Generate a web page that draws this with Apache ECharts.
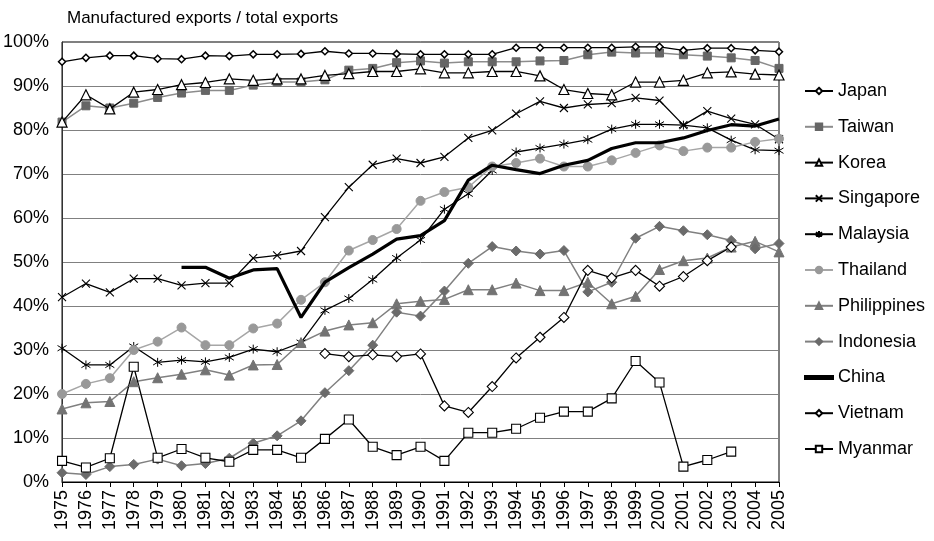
<!DOCTYPE html>
<html>
<head>
<meta charset="utf-8">
<script src="https://cdn.jsdelivr.net/npm/echarts@6/dist/echarts.min.js"></script>
<title>Manufactured exports</title>
<style>
html,body{margin:0;padding:0;background:#fff;}
#chart{width:934px;height:541px;}
</style>
</head>
<body>
<div id="chart"></div>
<script>
var years = [];
for (var y = 1975; y <= 2005; y++) years.push(String(y));

var japan = [95.5,96.4,96.9,96.9,96.2,96.1,96.9,96.8,97.2,97.2,97.3,97.9,97.4,97.4,97.3,97.2,97.2,97.2,97.2,98.7,98.7,98.7,98.7,98.7,98.9,98.9,98.1,98.6,98.6,98.1,97.8];
var taiwan = [81.8,85.5,85.0,86.1,87.4,88.4,89.0,89.0,90.2,90.9,90.9,91.4,93.6,94.0,95.3,95.7,95.2,95.5,95.5,95.5,95.7,95.8,97.1,97.7,97.5,97.5,97.1,96.8,96.4,95.8,94.0];
var korea = [81.8,88.0,84.8,88.6,89.2,90.3,90.8,91.6,91.3,91.6,91.6,92.4,92.8,93.3,93.3,93.9,93.0,93.0,93.3,93.3,92.3,89.2,88.3,88.0,90.9,90.9,91.3,93.0,93.2,92.7,92.5];
var singapore = [42.0,45.1,43.1,46.2,46.2,44.7,45.2,45.2,50.9,51.5,52.5,60.2,67.0,72.1,73.5,72.5,73.9,78.2,79.9,83.7,86.5,85.0,85.8,86.1,87.3,86.7,81.1,84.3,82.6,81.3,77.9];
var malaysia = [30.4,26.6,26.6,30.8,27.2,27.7,27.3,28.3,30.2,29.6,31.7,39.0,41.7,46.0,50.9,55.0,62.0,65.5,70.8,75.0,75.9,76.8,77.8,80.2,81.3,81.3,81.1,80.5,77.7,75.5,75.3];
var thailand = [20.0,22.3,23.6,30.0,31.9,35.1,31.1,31.1,34.9,36.0,41.4,45.4,52.6,55.0,57.5,63.9,65.9,67.0,71.7,72.5,73.5,71.7,71.7,73.1,74.8,76.5,75.2,76.0,76.0,77.3,78.0];
var philippines = [16.6,18.0,18.3,22.8,23.7,24.5,25.5,24.3,26.6,26.7,31.7,34.3,35.7,36.2,40.5,41.1,41.5,43.7,43.7,45.2,43.5,43.5,45.4,40.5,42.2,48.3,50.3,50.9,53.4,54.7,52.3];
var indonesia = [2.1,1.7,3.5,4.0,5.2,3.7,4.2,5.4,8.8,10.5,13.9,20.3,25.3,31.1,38.6,37.7,43.4,49.7,53.5,52.5,51.8,52.6,43.2,45.4,55.4,58.1,57.1,56.2,54.9,53.0,54.2];
var china = [null,null,null,null,null,48.8,48.8,46.3,48.2,48.5,37.4,45.4,48.7,51.8,55.2,56.0,59.4,68.6,72.0,71.0,70.1,72.0,73.1,75.8,77.1,77.1,78.2,79.9,81.2,80.9,82.5];
var vietnam = [null,null,null,null,null,null,null,null,null,null,null,29.2,28.5,28.9,28.5,29.1,17.3,15.8,21.7,28.2,32.9,37.4,48.1,46.4,48.1,44.5,46.7,50.3,53.4,null,null];
var myanmar = [4.8,3.3,5.4,26.2,5.5,7.5,5.5,4.6,7.3,7.3,5.5,9.8,14.2,8.0,6.1,8.0,4.8,11.2,11.2,12.1,14.6,16.0,16.0,19.0,27.5,22.6,3.5,5.0,6.9,null,null];

var crossPath = 'path://M0,0L10,10M10,0L0,10';
var starPath = 'path://M5,0L5,10M0,2L10,8M10,2L0,8';
var FONT = 'Liberation Sans, Arial, sans-serif';

function s(name, data, opt) {
    return {
        name: name,
        type: 'line',
        data: data,
        symbol: opt.symbol || 'none',
        symbolSize: opt.size || 8,
        showSymbol: opt.symbol ? true : false,
        connectNulls: false,
        animation: false,
        z: opt.z || 2,
        lineStyle: { color: opt.line, width: opt.width || 1.3 },
        itemStyle: {
            color: opt.fill || opt.line,
            borderColor: opt.border || opt.fill || opt.line,
            borderWidth: opt.bw || 1
        }
    };
}

var series = [
    s('Japan', japan, {symbol:'diamond', size:7, line:'#000', fill:'#fff', border:'#000', bw:1.5, z:5}),
    s('Taiwan', taiwan, {symbol:'rect', size:8, line:'#8c8c8c', fill:'#666', width:1.5, z:3}),
    s('Korea', korea, {symbol:'triangle', size:10, line:'#000', fill:'#fff', border:'#000', bw:1.2, z:4}),
    s('Singapore', singapore, {symbol:crossPath, size:8, line:'#000', fill:'#000', border:'#000', bw:1.1}),
    s('Malaysia', malaysia, {symbol:starPath, size:9, line:'#000', fill:'#000', border:'#000', bw:1}),
    s('Thailand', thailand, {symbol:'circle', size:9, line:'#a6a6a6', fill:'#999', width:1.5}),
    s('Philippines', philippines, {symbol:'triangle', size:10, line:'#808080', fill:'#737373', width:1.5}),
    s('Indonesia', indonesia, {symbol:'diamond', size:10, line:'#808080', fill:'#6b6b6b', width:1.5}),
    s('China', china, {line:'#000', width:3.2, z:3}),
    s('Vietnam', vietnam, {symbol:'diamond', size:10, line:'#000', fill:'#fff', border:'#000', bw:1.1}),
    s('Myanmar', myanmar, {symbol:'rect', size:9, line:'#000', fill:'#fff', border:'#000', bw:1.1})
];

var legendItems = series.map(function (d) {
    if (d.name === 'China') return { name: 'China', icon: 'path://M0,0L28,0L28,3L0,3Z' };
    return { name: d.name };
});

var chart = echarts.init(document.getElementById('chart'));
chart.setOption({
    backgroundColor: '#fff',
    animation: false,
    textStyle: { fontFamily: FONT },
    title: {
        text: 'Manufactured exports / total exports',
        left: 62,
        top: 5,
        textStyle: { fontSize: 17, fontWeight: 'normal', color: '#000', fontFamily: FONT }
    },
    grid: {
        left: 61, right: 155, top: 42, bottom: 59,
        show: true, borderColor: '#000', borderWidth: 1
    },
    legend: {
        orient: 'vertical',
        left: 799,
        top: 76,
        itemWidth: 28,
        itemHeight: 8,
        itemGap: 15.8,
        textStyle: { fontSize: 18, color: '#000', lineHeight: 20, fontFamily: FONT },
        data: legendItems
    },
    xAxis: {
        type: 'category',
        data: years,
        boundaryGap: false,
        axisLine: { lineStyle: { color: '#000' } },
        axisTick: { show: true, length: 5, interval: 0, lineStyle: { color: '#000' } },
        axisLabel: { rotate: 90, interval: 0, fontSize: 18, color: '#000', margin: 8 },
        splitLine: { show: false }
    },
    yAxis: {
        type: 'value',
        min: 0, max: 100, interval: 10,
        axisLine: { show: true, lineStyle: { color: '#333' } },
        axisTick: { show: false },
        axisLabel: { formatter: '{value}%', fontSize: 18, color: '#000', margin: 13 },
        splitLine: { show: true, lineStyle: { color: '#808080', width: 1 } }
    },
    series: series
});
</script>
</body>
</html>
